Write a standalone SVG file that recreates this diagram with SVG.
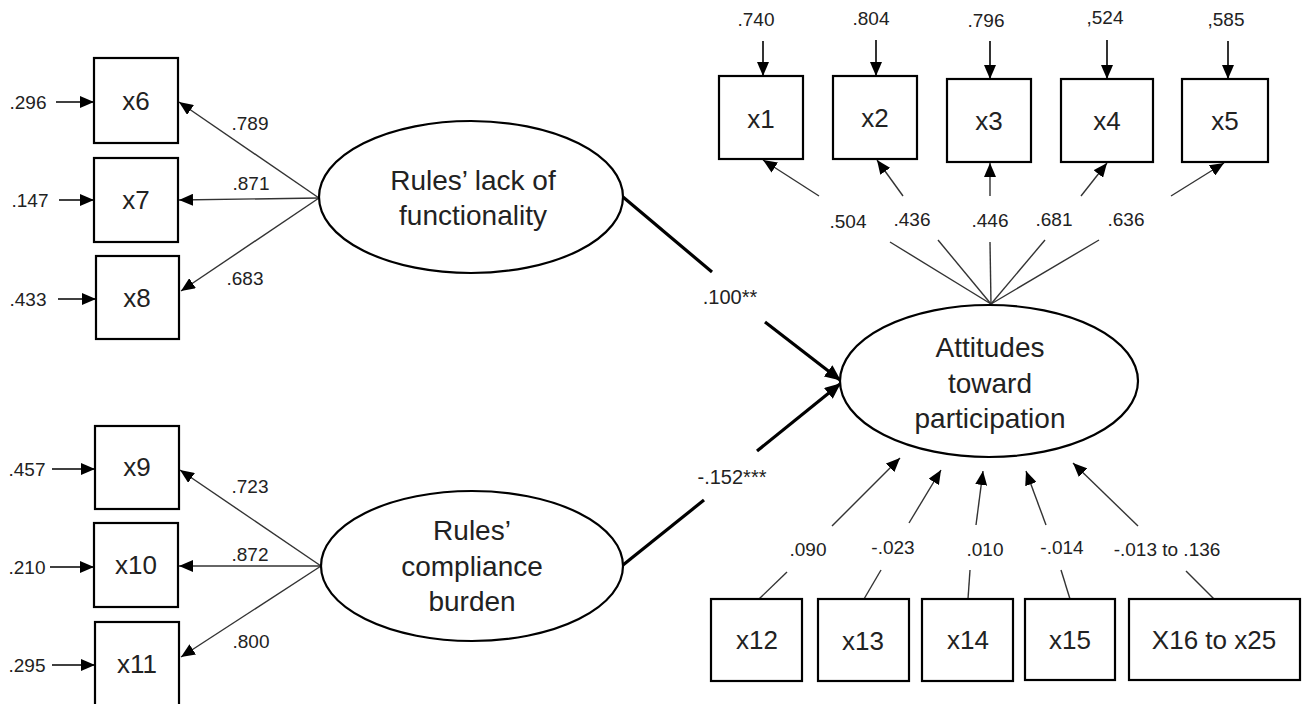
<svg xmlns="http://www.w3.org/2000/svg" width="1304" height="704" viewBox="0 0 1304 704">
<defs>
<marker id="ah" viewBox="0 0 14 12" refX="14" refY="6" markerWidth="14" markerHeight="12" orient="auto" markerUnits="userSpaceOnUse"><path d="M0,0 L14,6 L0,12 z" fill="#000"/></marker>
<marker id="ahb" viewBox="0 0 16 14" refX="15" refY="7" markerWidth="16" markerHeight="14" orient="auto" markerUnits="userSpaceOnUse"><path d="M0,0 L16,7 L0,14 z" fill="#000"/></marker>
</defs>
<style>
.box{fill:#fff;stroke:#000;stroke-width:2.2}
.ell{fill:#fff;stroke:#000;stroke-width:2.2}
.thin{stroke:#333;stroke-width:1.4;fill:none}
.arr{stroke:#000;stroke-width:1.6;fill:none}
.thick{stroke:#000;stroke-width:3.2;fill:none}
text{font-family:"Liberation Sans",Arial,sans-serif;fill:#222;text-anchor:middle;dominant-baseline:central}
.bl{font-size:26px}
.el{font-size:28px}
.lb{font-size:19px}
.pl{font-size:20px}
</style>
<rect width="1304" height="704" fill="#fff"/>
<g id="connectors">
<!-- residual arrows left -->
<line class="arr" x1="56" y1="102" x2="94" y2="102" marker-end="url(#ah)"/>
<line class="arr" x1="59" y1="200" x2="94" y2="200" marker-end="url(#ah)"/>
<line class="arr" x1="58" y1="299" x2="96" y2="299" marker-end="url(#ah)"/>
<line class="arr" x1="52" y1="469" x2="95" y2="469" marker-end="url(#ah)"/>
<line class="arr" x1="50" y1="567" x2="94" y2="567" marker-end="url(#ah)"/>
<line class="arr" x1="52" y1="665" x2="95" y2="665" marker-end="url(#ah)"/>
<!-- residual arrows top -->
<line class="arr" x1="763" y1="41" x2="763" y2="76" marker-end="url(#ah)"/>
<line class="arr" x1="876" y1="40" x2="876" y2="76" marker-end="url(#ah)"/>
<line class="arr" x1="990" y1="41" x2="990" y2="79" marker-end="url(#ah)"/>
<line class="arr" x1="1107" y1="40" x2="1107" y2="79" marker-end="url(#ah)"/>
<line class="arr" x1="1228" y1="41" x2="1228" y2="79" marker-end="url(#ah)"/>
<!-- loadings rules' lack of functionality -->
<line class="thin" x1="319" y1="198" x2="179" y2="102" marker-end="url(#ah)"/>
<line class="thin" x1="319" y1="198" x2="179" y2="200" marker-end="url(#ah)"/>
<line class="thin" x1="319" y1="198" x2="181" y2="291" marker-end="url(#ah)"/>
<!-- loadings rules' compliance burden -->
<line class="thin" x1="321" y1="566" x2="180" y2="470" marker-end="url(#ah)"/>
<line class="thin" x1="321" y1="566" x2="179" y2="566" marker-end="url(#ah)"/>
<line class="thin" x1="321" y1="566" x2="181" y2="657" marker-end="url(#ah)"/>
<!-- structural paths -->
<line class="thick" x1="623" y1="197" x2="712" y2="272"/>
<line class="thick" x1="765" y1="322" x2="840" y2="380" marker-end="url(#ahb)"/>
<line class="thick" x1="623" y1="565" x2="704" y2="500"/>
<line class="thick" x1="757" y1="451" x2="840" y2="384" marker-end="url(#ahb)"/>
<!-- loadings attitudes to x1..x5 -->
<line class="thin" x1="991" y1="304" x2="890" y2="242"/>
<line class="thin" x1="991" y1="304" x2="938" y2="240"/>
<line class="thin" x1="991" y1="304" x2="990" y2="242"/>
<line class="thin" x1="991" y1="304" x2="1045" y2="240"/>
<line class="thin" x1="991" y1="304" x2="1099" y2="240"/>
<line class="thin" x1="819" y1="196" x2="763" y2="160" marker-end="url(#ah)"/>
<line class="thin" x1="903" y1="196" x2="877" y2="160" marker-end="url(#ah)"/>
<line class="thin" x1="990" y1="196" x2="990" y2="163" marker-end="url(#ah)"/>
<line class="thin" x1="1081" y1="196" x2="1107" y2="163" marker-end="url(#ah)"/>
<line class="thin" x1="1171" y1="196" x2="1224" y2="163" marker-end="url(#ah)"/>
<!-- controls x12..x25 -->
<line class="thin" x1="759" y1="599" x2="787" y2="572"/>
<line class="thin" x1="864" y1="599" x2="881" y2="570"/>
<line class="thin" x1="968" y1="599" x2="970" y2="570"/>
<line class="thin" x1="1070" y1="599" x2="1061" y2="570"/>
<line class="thin" x1="1214" y1="599" x2="1186" y2="571"/>
<line class="thin" x1="832" y1="526" x2="900" y2="458" marker-end="url(#ah)"/>
<line class="thin" x1="909" y1="523" x2="941" y2="470" marker-end="url(#ah)"/>
<line class="thin" x1="976" y1="525" x2="983" y2="471" marker-end="url(#ah)"/>
<line class="thin" x1="1046" y1="525" x2="1026" y2="471" marker-end="url(#ah)"/>
<line class="thin" x1="1138" y1="526" x2="1073" y2="463" marker-end="url(#ah)"/>
</g>
<g id="labels">
<text class="lb" x="28" y="102">.296</text>
<text class="lb" x="30" y="200">.147</text>
<text class="lb" x="28" y="299">.433</text>
<text class="lb" x="27" y="469">.457</text>
<text class="lb" x="27" y="567">.210</text>
<text class="lb" x="27" y="665">.295</text>
<text class="lb" x="250" y="123">.789</text>
<text class="lb" x="251" y="183">.871</text>
<text class="lb" x="245" y="278">.683</text>
<text class="lb" x="250" y="486">.723</text>
<text class="lb" x="250" y="554">.872</text>
<text class="lb" x="251" y="641">.800</text>
<text class="lb" x="756" y="19">.740</text>
<text class="lb" x="871" y="18">.804</text>
<text class="lb" x="986" y="20">.796</text>
<text class="lb" x="1105" y="17">,524</text>
<text class="lb" x="1226" y="19">,585</text>
<text class="lb" x="848" y="221">.504</text>
<text class="lb" x="912" y="219">.436</text>
<text class="lb" x="990" y="220">.446</text>
<text class="lb" x="1054" y="219">.681</text>
<text class="lb" x="1126" y="219">.636</text>
<text class="lb" x="808" y="549">.090</text>
<text class="lb" x="893" y="547">-.023</text>
<text class="lb" x="985" y="549">.010</text>
<text class="lb" x="1062" y="547">-.014</text>
<text class="lb" x="1167" y="549">-.013 to .136</text>
<text class="pl" x="730" y="297">.100**</text>
<text class="pl" x="732" y="477">-.152***</text>
</g>
<g id="x6"><rect class="box" x="94" y="58" width="84" height="85"/><text class="bl" x="136" y="101">x6</text></g>
<g id="x7"><rect class="box" x="94" y="158" width="84" height="84"/><text class="bl" x="136" y="200">x7</text></g>
<g id="x8"><rect class="box" x="96" y="256" width="83" height="83"/><text class="bl" x="137" y="298">x8</text></g>
<g id="x9"><rect class="box" x="95" y="426" width="84" height="83"/><text class="bl" x="137" y="467">x9</text></g>
<g id="x10"><rect class="box" x="94" y="523" width="84" height="84"/><text class="bl" x="136" y="565">x10</text></g>
<g id="x11"><rect class="box" x="95" y="622" width="84" height="90"/><text class="bl" x="137" y="664">x11</text></g>
<g id="x1"><rect class="box" x="719" y="76" width="84" height="83"/><text class="bl" x="761" y="119">x1</text></g>
<g id="x2"><rect class="box" x="833" y="76" width="84" height="83"/><text class="bl" x="875" y="118">x2</text></g>
<g id="x3"><rect class="box" x="947" y="79" width="84" height="83"/><text class="bl" x="989" y="121">x3</text></g>
<g id="x4"><rect class="box" x="1061" y="79" width="92" height="83"/><text class="bl" x="1107" y="121">x4</text></g>
<g id="x5"><rect class="box" x="1182" y="79" width="86" height="83"/><text class="bl" x="1225" y="121">x5</text></g>
<g id="x12"><rect class="box" x="711" y="599" width="91" height="82"/><text class="bl" x="757" y="640">x12</text></g>
<g id="x13"><rect class="box" x="818" y="599" width="91" height="82"/><text class="bl" x="863" y="641">x13</text></g>
<g id="x14"><rect class="box" x="922" y="599" width="91" height="82"/><text class="bl" x="968" y="640">x14</text></g>
<g id="x15"><rect class="box" x="1025" y="599" width="90" height="81"/><text class="bl" x="1070" y="640">x15</text></g>
<g id="x16to25"><rect class="box" x="1129" y="599" width="171" height="81"/><text class="bl" x="1214" y="640">X16 to x25</text></g>
<g id="lack"><ellipse class="ell" cx="471" cy="197" rx="152" ry="76"/><text class="el" x="473" y="180">Rules’ lack of</text><text class="el" x="473" y="215">functionality</text></g>
<g id="burden"><ellipse class="ell" cx="472" cy="566" rx="151" ry="75"/><text class="el" x="472" y="530">Rules’</text><text class="el" x="472" y="566">compliance</text><text class="el" x="472" y="601">burden</text></g>
<g id="attitudes"><ellipse class="ell" cx="989" cy="381" rx="149" ry="76"/><text class="el" x="990" y="347">Attitudes</text><text class="el" x="990" y="383">toward</text><text class="el" x="990" y="418">participation</text></g>
</svg>
